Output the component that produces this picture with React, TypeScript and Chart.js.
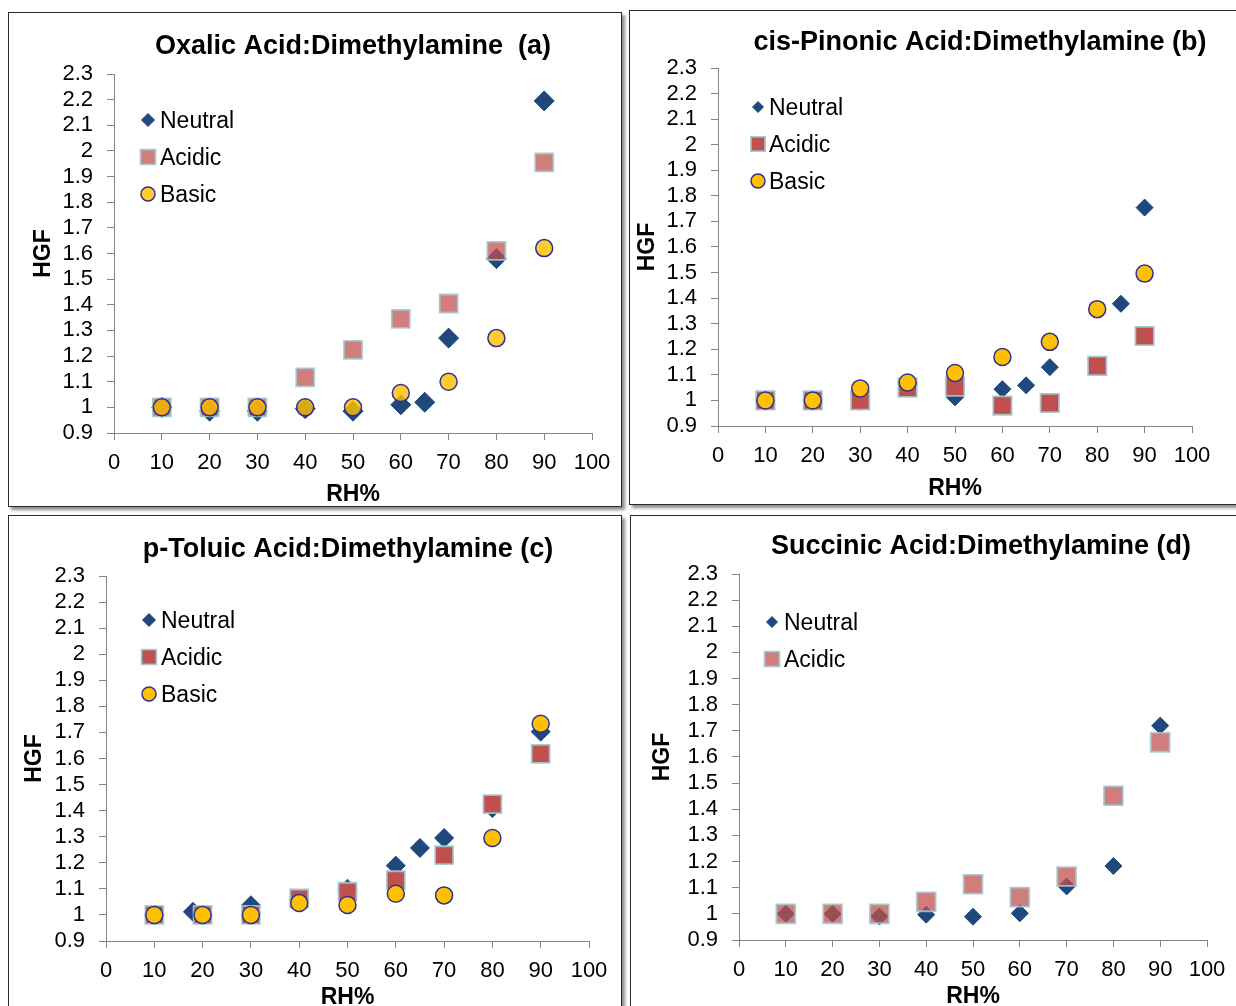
import React, { useEffect, useRef } from 'react';
import { Chart, registerables } from 'chart.js';
Chart.register(...registerables);

const FONT = '"Liberation Sans", Arial, Helvetica, sans-serif';

// Axis tick labels
const RH_TICKS = ['0', '10', '20', '30', '40', '50', '60', '70', '80', '90', '100'];
const HGF_TICKS = ['0.9', '1', '1.1', '1.2', '1.3', '1.4', '1.5', '1.6', '1.7', '1.8', '1.9', '2', '2.1', '2.2', '2.3'];

// (a) Oxalic Acid:Dimethylamine
const OXA_NEUTRAL_RH = [10, 20, 30, 40, 50, 60, 65, 70, 80, 90];
const OXA_NEUTRAL_HGF = [1.0, 0.985, 0.985, 0.995, 0.985, 1.01, 1.02, 1.27, 1.58, 2.195];
const OXA_ACIDIC_RH = [10, 20, 30, 40, 50, 60, 70, 80, 90];
const OXA_ACIDIC_HGF = [1.0, 1.0, 1.0, 1.117, 1.224, 1.345, 1.405, 1.61, 1.955];
const OXA_BASIC_RH = [10, 20, 30, 40, 50, 60, 70, 80, 90];
const OXA_BASIC_HGF = [1.0, 1.0, 1.0, 1.0, 1.0, 1.056, 1.1, 1.27, 1.621];

// (b) cis-Pinonic Acid:Dimethylamine
const PIN_NEUTRAL_RH = [10, 20, 30, 40, 50, 60, 65, 70, 85, 90];
const PIN_NEUTRAL_HGF = [1.0, 1.0, 0.995, 1.05, 1.012, 1.044, 1.059, 1.13, 1.378, 1.754];
const PIN_ACIDIC_RH = [10, 20, 30, 40, 50, 60, 70, 80, 90];
const PIN_ACIDIC_HGF = [1.0, 1.0, 1.0, 1.05, 1.054, 0.98, 0.99, 1.135, 1.252];
const PIN_BASIC_RH = [10, 20, 30, 40, 50, 60, 70, 80, 90];
const PIN_BASIC_HGF = [1.0, 1.0, 1.047, 1.07, 1.107, 1.17, 1.229, 1.357, 1.496];

// (c) p-Toluic Acid:Dimethylamine
const TOL_NEUTRAL_RH = [10, 18, 30, 40, 50, 60, 65, 70, 80, 90];
const TOL_NEUTRAL_HGF = [1.0, 1.012, 1.037, 1.06, 1.1, 1.189, 1.257, 1.295, 1.41, 1.703];
const TOL_ACIDIC_RH = [10, 20, 30, 40, 50, 60, 70, 80, 90];
const TOL_ACIDIC_HGF = [1.0, 1.0, 1.0, 1.063, 1.089, 1.133, 1.229, 1.425, 1.618];
const TOL_BASIC_RH = [10, 20, 30, 40, 50, 60, 70, 80, 90];
const TOL_BASIC_HGF = [1.0, 1.0, 1.0, 1.046, 1.038, 1.081, 1.075, 1.295, 1.733];

// (d) Succinic Acid:Dimethylamine
const SUC_NEUTRAL_RH = [10, 20, 30, 40, 50, 60, 70, 80, 90];
const SUC_NEUTRAL_HGF = [1.0, 1.0, 0.99, 0.997, 0.989, 1.002, 1.105, 1.183, 1.72];
const SUC_ACIDIC_RH = [10, 20, 30, 40, 50, 60, 70, 80, 90];
const SUC_ACIDIC_HGF = [1.0, 1.0, 1.0, 1.046, 1.113, 1.064, 1.143, 1.452, 1.656];

type Style = 'rectRot' | 'rect' | 'circle';
type Series = {
  label: string;
  rh: number[];
  hgf: number[];
  style: Style;
  radius: number;
  legendRadius: number;
  fill: string;
  stroke: string;
  lw: number;
};
type Panel = {
  title: string;
  box: { left: number; top: number; width: number; height: number };
  W: number;
  H: number;
  area: { l: number; t: number; r: number; b: number };
  titlePos: [number, number];
  hgfPad: number;
  rhPad: number;
  legend: { x: number; rows: number[]; textX: number };
  series: Series[];
};

const NAVY = '#1F497D';
const RED = '#C0504D';
const RED_T = 'rgba(192,80,77,0.74)';
const TEAL_EDGE = 'rgba(160,200,206,0.9)';
const GOLD = '#FFC000';
const GOLD_T = 'rgba(255,192,0,0.82)';
const RING = '#2E3192';

const neutral = (rh: number[], hgf: number[], r: number, lr: number): Series => ({
  label: 'Neutral', rh, hgf, style: 'rectRot', radius: r, legendRadius: lr, fill: NAVY, stroke: NAVY, lw: 1,
});
const acidic = (rh: number[], hgf: number[], r: number, fill: string, lr: number): Series => ({
  label: 'Acidic', rh, hgf, style: 'rect', radius: r, legendRadius: lr, fill, stroke: TEAL_EDGE, lw: 1.8,
});
const basic = (rh: number[], hgf: number[], r: number, fill: string, lr: number): Series => ({
  label: 'Basic', rh, hgf, style: 'circle', radius: r, legendRadius: lr, fill, stroke: RING, lw: 1.5,
});

const PANELS: Panel[] = [
  {
    title: 'Oxalic Acid:Dimethylamine  (a)',
    box: { left: 8, top: 12, width: 614, height: 495 },
    W: 612, H: 493,
    area: { l: 105, t: 61, r: 583, b: 420 },
    titlePos: [344, 34],
    hgfPad: 21,
    rhPad: -2,
    legend: { x: 139, rows: [107, 144, 181], textX: 151 },
    series: [
      neutral(OXA_NEUTRAL_RH, OXA_NEUTRAL_HGF, 10, 6.5),
      acidic(OXA_ACIDIC_RH, OXA_ACIDIC_HGF, 12.7, RED_T, 10.5),
      basic(OXA_BASIC_RH, OXA_BASIC_HGF, 8.5, GOLD_T, 7),
    ],
  },
  {
    title: 'cis-Pinonic Acid:Dimethylamine (b)',
    box: { left: 629, top: 10, width: 620, height: 495 },
    W: 618, H: 493,
    area: { l: 88, t: 57, r: 562, b: 415 },
    titlePos: [350, 32],
    hgfPad: 4,
    rhPad: 2,
    legend: { x: 128, rows: [96, 133, 170], textX: 139 },
    series: [
      neutral(PIN_NEUTRAL_RH, PIN_NEUTRAL_HGF, 8.5, 5.5),
      acidic(PIN_ACIDIC_RH, PIN_ACIDIC_HGF, 13, RED, 10),
      basic(PIN_BASIC_RH, PIN_BASIC_HGF, 8.5, GOLD, 7),
    ],
  },
  {
    title: 'p-Toluic Acid:Dimethylamine (c)',
    box: { left: 8, top: 515, width: 614, height: 510 },
    W: 612, H: 500,
    area: { l: 97, t: 60, r: 580, b: 425 },
    titlePos: [339, 34],
    hgfPad: 12,
    rhPad: 5,
    legend: { x: 140, rows: [104, 141, 178], textX: 152 },
    series: [
      neutral(TOL_NEUTRAL_RH, TOL_NEUTRAL_HGF, 9.5, 6.5),
      acidic(TOL_ACIDIC_RH, TOL_ACIDIC_HGF, 12.7, RED, 10.5),
      basic(TOL_BASIC_RH, TOL_BASIC_HGF, 8.5, GOLD, 7),
    ],
  },
  {
    title: 'Succinic Acid:Dimethylamine (d)',
    box: { left: 630, top: 515, width: 620, height: 510 },
    W: 618, H: 500,
    area: { l: 108, t: 58, r: 576, b: 424 },
    titlePos: [350, 31],
    hgfPad: 18,
    rhPad: 6,
    legend: { x: 141, rows: [106, 143], textX: 153 },
    series: [
      neutral(SUC_NEUTRAL_RH, SUC_NEUTRAL_HGF, 8.5, 5.5),
      acidic(SUC_ACIDIC_RH, SUC_ACIDIC_HGF, 13.3, RED_T, 10.5),
    ],
  },
];

function drawMarker(ctx: CanvasRenderingContext2D, s: Series, x: number, y: number, r: number) {
  ctx.beginPath();
  if (s.style === 'rectRot') {
    ctx.moveTo(x, y - r);
    ctx.lineTo(x + r, y);
    ctx.lineTo(x, y + r);
    ctx.lineTo(x - r, y);
    ctx.closePath();
  } else if (s.style === 'rect') {
    const h = r * Math.SQRT1_2;
    ctx.rect(x - h, y - h, 2 * h, 2 * h);
  } else {
    ctx.arc(x, y, r, 0, Math.PI * 2);
  }
  ctx.fillStyle = s.fill;
  ctx.fill();
  ctx.lineWidth = s.lw;
  ctx.strokeStyle = s.stroke;
  ctx.stroke();
}

function PanelChart({ p }: { p: Panel }) {
  const ref = useRef<HTMLCanvasElement | null>(null);
  useEffect(() => {
    if (!ref.current) return;
    const overlay = {
      id: 'panelOverlay',
      afterDraw(chart: any) {
        const ctx: CanvasRenderingContext2D = chart.ctx;
        ctx.save();
        ctx.fillStyle = '#000';
        ctx.textAlign = 'center';
        ctx.textBaseline = 'middle';
        ctx.font = `bold 27px ${FONT}`;
        ctx.fillText(p.title, p.titlePos[0], p.titlePos[1]);
        ctx.font = `23px ${FONT}`;
        ctx.textAlign = 'left';
        p.series.forEach((s, i) => {
          const y = p.legend.rows[i];
          drawMarker(ctx, s, p.legend.x, y, s.legendRadius);
          ctx.fillStyle = '#000';
          ctx.fillText(s.label, p.legend.textX, y + 2);
        });
        ctx.restore();
      },
    };
    const chart = new Chart(ref.current, {
      type: 'scatter',
      data: {
        datasets: p.series.map((s, i) => ({
          label: s.label,
          data: s.rh.map((x, j) => ({ x, y: s.hgf[j] })),
          pointStyle: s.style,
          pointRadius: s.radius,
          pointHoverRadius: s.radius,
          backgroundColor: s.fill,
          borderColor: s.stroke,
          borderWidth: s.lw,
          order: p.series.length - i,
        })),
      },
      options: {
        responsive: false,
        animation: false,
        devicePixelRatio: 1,
        events: [],
        layout: { padding: { left: 0, top: p.area.t, right: p.W - p.area.r, bottom: 0 } },
        plugins: {
          legend: { display: false },
          title: { display: false },
          tooltip: { enabled: false },
        },
        scales: {
          x: {
            type: 'linear',
            position: 'bottom',
            min: 0,
            max: 100,
            ticks: {
              stepSize: 10,
              autoSkip: false,
              maxRotation: 0,
              padding: 10,
              color: '#000',
              font: { family: FONT, size: 22 },
              callback: (v: any, i: number) => RH_TICKS[i] ?? String(v),
            },
            grid: { drawOnChartArea: false, drawTicks: true, tickLength: 7, color: '#868686', lineWidth: 1 },
            border: { display: true, color: '#868686', width: 1 },
            title: {
              display: true,
              text: 'RH%',
              color: '#000',
              font: { family: FONT, size: 23, weight: 'bold' },
              padding: { top: 0, bottom: p.rhPad },
            },
            afterFit: (scale: any) => {
              scale.height = p.H - p.area.b;
            },
          },
          y: {
            type: 'linear',
            position: 'left',
            min: 0.9,
            max: 2.3,
            ticks: {
              stepSize: 0.1,
              autoSkip: false,
              padding: 14,
              color: '#000',
              font: { family: FONT, size: 22 },
              callback: (v: any, i: number) => HGF_TICKS[i] ?? String(v),
            },
            grid: { drawOnChartArea: false, drawTicks: true, tickLength: 7, color: '#868686', lineWidth: 1 },
            border: { display: true, color: '#868686', width: 1 },
            title: {
              display: true,
              text: 'HGF',
              color: '#000',
              font: { family: FONT, size: 23, weight: 'bold' },
              padding: { top: p.hgfPad, bottom: 0 },
            },
            afterFit: (scale: any) => {
              scale.width = p.area.l;
            },
          },
        },
      } as any,
      plugins: [overlay],
    });
    return () => chart.destroy();
  }, [p]);
  return (
    <div
      style={{
        position: 'absolute',
        left: p.box.left,
        top: p.box.top,
        width: p.box.width,
        height: p.box.height,
        boxSizing: 'border-box',
        border: '1px solid #2a2a2a',
        boxShadow: '3px 3px 3px rgba(0,0,0,0.45)',
        background: '#fff',
      }}
    >
      <canvas ref={ref} width={p.W} height={p.H} style={{ position: 'absolute', left: 0, top: 0 }} />
    </div>
  );
}

export default function App() {
  return (
    <div
      style={{
        position: 'fixed',
        left: 0,
        top: 0,
        width: 1236,
        height: 1006,
        overflow: 'hidden',
        background: '#fff',
      }}
    >
      {PANELS.map((p, i) => (
        <PanelChart key={i} p={p} />
      ))}
    </div>
  );
}
